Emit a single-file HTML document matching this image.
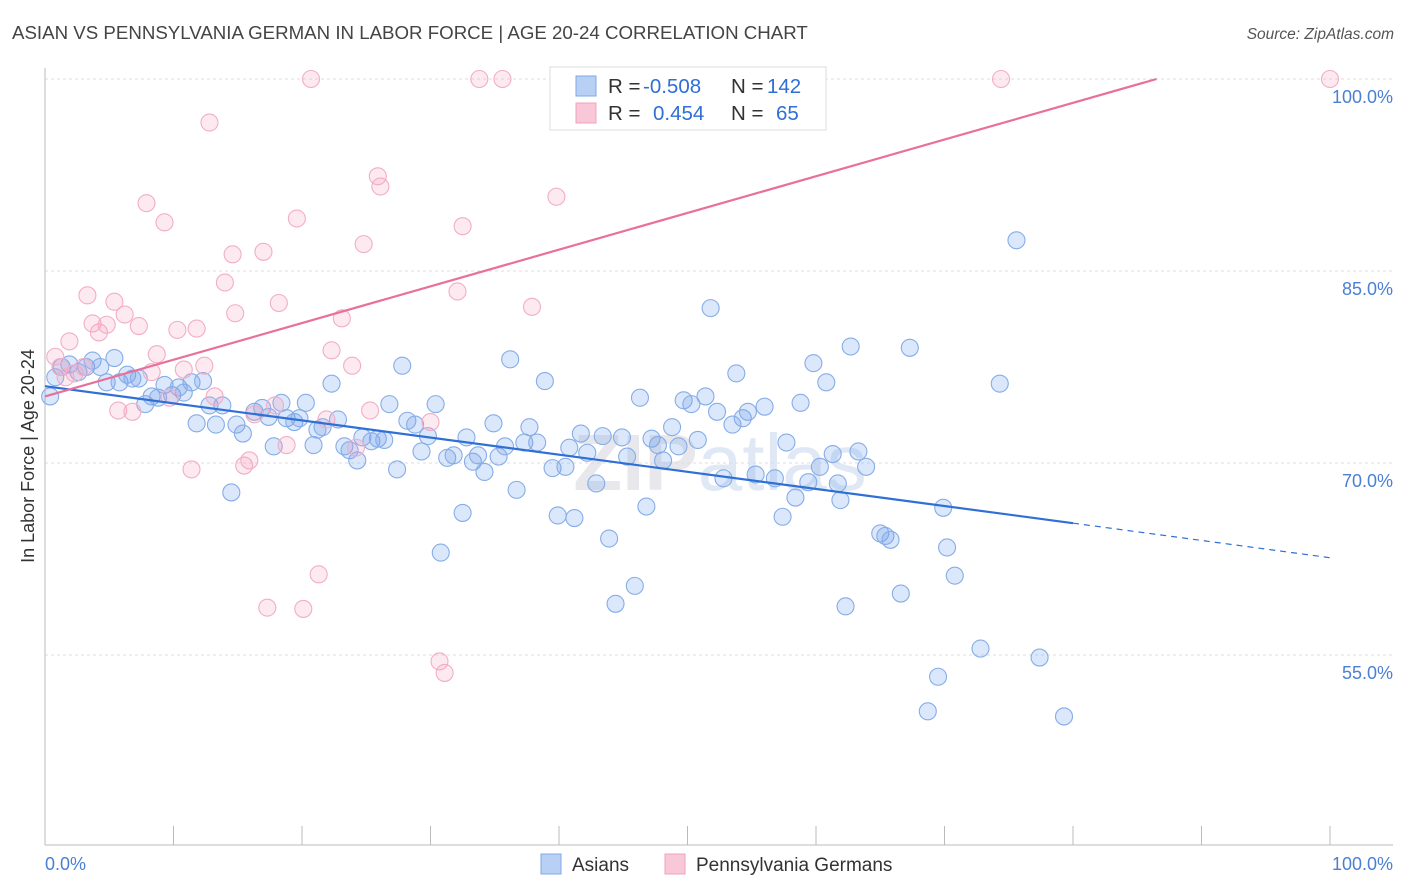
<!DOCTYPE html>
<html><head><meta charset="utf-8"><style>
body{margin:0;background:#fff;font-family:"Liberation Sans",sans-serif;}
#wrap{position:relative;width:1406px;height:892px;overflow:hidden}
</style></head><body>
<div id="wrap">
<svg id="chart" width="1406" height="892">
<text x="12" y="39" font-size="18.7" fill="#444">ASIAN VS PENNSYLVANIA GERMAN IN LABOR FORCE | AGE 20-24 CORRELATION CHART</text>
<text x="1394" y="39" font-size="15.5" fill="#555" font-style="italic" text-anchor="end">Source: ZipAtlas.com</text>
<text x="720" y="490" font-size="80" font-weight="bold" fill="#e8e8ec" text-anchor="middle">ZIP<tspan font-weight="normal" fill="#dfe8f4">atlas</tspan></text>
<g id="grid"></g><g id="axes"></g><g id="pts"></g><g id="trend"></g>
<text transform="translate(34,456) rotate(-90)" font-size="18" fill="#333" text-anchor="middle">In Labor Force | Age 20-24</text>
<text x="45" y="870" font-size="18" fill="#4a7fd4">0.0%</text>
<text x="1393" y="870" font-size="18" fill="#4a7fd4" text-anchor="end">100.0%</text>
<g>
<rect x="550" y="67" width="276" height="63" fill="#fff" stroke="#ddd"/>
<rect x="576" y="76" width="20" height="20" fill="#b8d0f4" stroke="#7ea8e6"/>
<rect x="576" y="103" width="20" height="20" fill="#f9c8d8" stroke="#f0a0bc"/>
<text x="608" y="93" font-size="20.5" fill="#333">R = <tspan x="643" fill="#2f6fd6">-0.508</tspan><tspan x="731">N = </tspan><tspan x="767" fill="#2f6fd6">142</tspan></text>
<text x="608" y="120" font-size="20.5" fill="#333">R = <tspan x="653" fill="#2f6fd6">0.454</tspan><tspan x="731">N = </tspan><tspan x="776" fill="#2f6fd6">65</tspan></text>
</g>
<g>
<rect x="541" y="854" width="20" height="20" fill="#b8d0f4" stroke="#7ea8e6"/>
<text x="572" y="871" font-size="19" fill="#333">Asians</text>
<rect x="665" y="854" width="20" height="20" fill="#f9c8d8" stroke="#f0a0bc"/>
<text x="696" y="871" font-size="19" fill="#333">Pennsylvania Germans</text>
</g>
</svg></div>
<script>
const yTicks=[100,85,70,55];
const yTickLabels=["100.0%","85.0%","70.0%","55.0%"];
const xTicks=[0,10,20,30,40,50,60,70,80,90,100];
const asianX=[0.4,0.8,1.3,1.9,2.6,3.2,3.7,4.3,4.8,5.4,5.8,6.4,6.8,7.3,7.8,8.3,8.8,9.3,9.9,10.4,10.8,11.4,11.8,12.3,12.8,13.3,13.8,14.5,14.9,15.4,16.3,16.9,17.4,17.8,18.4,18.8,19.4,19.8,20.3,20.9,21.2,21.6,22.3,22.8,23.3,23.7,24.3,24.7,25.4,25.9,26.4,26.8,27.4,27.8,28.2,28.8,29.3,29.8,30.4,30.8,31.3,31.8,32.5,32.8,33.3,33.7,34.2,34.9,35.3,35.8,36.2,36.7,37.3,37.7,38.3,38.9,39.5,39.9,40.5,40.8,41.2,41.7,42.2,42.9,43.4,43.9,44.4,44.9,45.3,45.9,46.3,46.8,47.2,47.7,48.1,48.8,49.3,49.7,50.3,50.8,51.4,51.8,52.3,52.8,53.5,53.8,54.3,54.7,55.3,56.0,56.8,57.4,57.7,58.4,58.8,59.4,59.8,60.3,60.8,61.3,61.7,61.9,62.3,62.7,63.3,63.9,65.0,65.4,65.8,66.6,67.3,68.7,69.5,69.9,70.2,70.8,72.8,74.3,75.6,77.4,79.3];
const asianY=[75.2,76.7,77.5,77.7,77.1,77.5,78.0,77.5,76.3,78.2,76.3,76.9,76.6,76.6,74.6,75.2,75.1,76.1,75.3,75.9,75.5,76.3,73.1,76.4,74.5,73.0,74.5,67.7,73.0,72.3,74.0,74.3,73.6,71.3,74.7,73.5,73.2,73.5,74.7,71.4,72.6,72.8,76.2,73.4,71.3,71.0,70.2,72.0,71.7,71.9,71.8,74.6,69.5,77.6,73.3,73.0,70.9,72.1,74.6,63.0,70.4,70.6,66.1,72.0,70.1,70.6,69.3,73.1,70.5,71.3,78.1,67.9,71.6,72.8,71.6,76.4,69.6,65.9,69.7,71.2,65.7,72.3,70.8,68.4,72.1,64.1,59.0,72.0,70.5,60.4,75.1,66.6,71.9,71.4,70.2,72.8,71.3,74.9,74.6,71.8,75.2,82.1,74.0,68.8,73.0,77.0,73.5,74.0,69.1,74.4,68.8,65.8,71.6,67.3,74.7,68.5,77.8,69.7,76.3,70.7,68.4,67.1,58.8,79.1,70.9,69.7,64.5,64.3,64.0,59.8,79.0,50.6,53.3,66.5,63.4,61.2,55.5,76.2,87.4,54.8,50.2];
const pgX=[0.8,1.2,1.6,1.9,2.3,3.0,3.3,3.7,4.2,4.8,5.4,5.7,6.2,6.8,7.3,7.9,8.3,8.7,9.3,9.7,10.3,10.8,11.4,11.8,12.4,12.8,13.2,14.0,14.6,14.8,15.5,15.9,16.3,17.0,17.3,17.9,18.2,18.8,19.6,20.1,20.7,21.3,21.9,22.3,23.1,23.9,24.2,24.8,25.3,25.9,26.1,30.0,30.7,31.1,32.1,32.5,33.8,35.6,37.9,39.8,46.8,58.5,74.4,100];
const pgY=[78.3,77.5,76.7,79.5,77.0,77.5,83.1,80.9,80.2,80.8,82.6,74.1,81.6,74.0,80.7,90.3,77.1,78.5,88.8,75.1,80.4,77.3,69.5,80.5,77.6,96.6,75.2,84.1,86.3,81.7,69.8,70.2,73.8,86.5,58.7,74.5,82.5,71.4,89.1,58.6,100,61.3,73.4,78.8,81.3,77.6,71.2,87.1,74.1,92.4,91.6,73.2,54.5,53.6,83.4,88.5,100,100,82.2,90.8,100,100,100,100];
const asianTrend=[[0,76.0],[80,65.3],[100,62.6]];
const pgTrend=[[0,75.2],[86.5,100]];
const NS='http://www.w3.org/2000/svg';
const sx=v=>45+v*12.85;
const sy=v=>79+(100-v)*12.8;
function mk(tag,attrs,parent){const e=document.createElementNS(NS,tag);for(const k in attrs)e.setAttribute(k,attrs[k]);document.getElementById(parent).appendChild(e);return e;}
yTicks.forEach((t,i)=>{
 const l=mk('line',{x1:45,x2:1393,y1:sy(t),y2:sy(t),stroke:'#ddd','stroke-dasharray':'3,3'},'grid');
 
 
 const tx=mk('text',{x:1393,y:sy(t)+24,'font-size':18,fill:'#4a7fd4','text-anchor':'end'},'grid');
 tx.textContent=yTickLabels[i];
 
 
});
const ax=mk('line',{x1:45,x2:1393,y1:845,y2:845,stroke:'#bbb'},'axes');


const ay=mk('line',{x1:45,x2:45,y1:68,y2:845,stroke:'#bbb'},'axes');


xTicks.forEach(t=>{
 const l=mk('line',{x1:sx(t),x2:sx(t),y1:826,y2:845,stroke:'#bbb'},'axes');
 
 
});
asianX.forEach((x,i)=>{
 const c=mk('circle',{cx:sx(x),cy:sy(asianY[i]),r:8.5,fill:'rgba(110,160,235,0.25)',stroke:'#86ade8','stroke-width':1.1},'pts');
 
 
});
pgX.forEach((x,i)=>{
 const c=mk('circle',{cx:sx(x),cy:sy(pgY[i]),r:8.5,fill:'rgba(245,160,190,0.22)',stroke:'#f2adc5','stroke-width':1.1},'pts');
 
 
});
let t1=mk('line',{x1:sx(asianTrend[0][0]),y1:sy(asianTrend[0][1]),x2:sx(asianTrend[1][0]),y2:sy(asianTrend[1][1]),stroke:'#2f6fd6','stroke-width':2.2},'trend');


let t2=mk('line',{x1:sx(asianTrend[1][0]),y1:sy(asianTrend[1][1]),x2:sx(asianTrend[2][0]),y2:sy(asianTrend[2][1]),stroke:'#2f6fd6','stroke-width':1.2,'stroke-dasharray':'6,5'},'trend');


let t3=mk('line',{x1:sx(pgTrend[0][0]),y1:sy(pgTrend[0][1]),x2:sx(pgTrend[1][0]),y2:sy(pgTrend[1][1]),stroke:'#e8709a','stroke-width':2.2},'trend');


</script>
</body></html>
